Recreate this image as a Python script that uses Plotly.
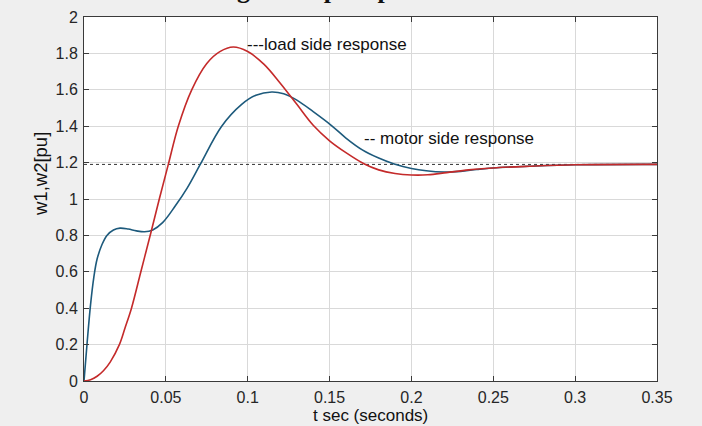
import plotly.graph_objects as go

# motor side response (w1)
t_motor = [0, 0.002, 0.004, 0.006, 0.008, 0.011, 0.014, 0.018, 0.022, 0.027, 0.032, 0.037,
           0.042, 0.048, 0.0556, 0.063, 0.071, 0.0841, 0.0963, 0.105, 0.1147, 0.122, 0.13,
           0.14, 0.151, 0.16, 0.17, 0.18, 0.189, 0.2, 0.209, 0.22, 0.23, 0.24, 0.252, 0.272,
           0.3, 0.35]
w_motor = [0, 0.22, 0.42, 0.57, 0.67, 0.75, 0.80, 0.83, 0.84, 0.835, 0.825, 0.82,
           0.83, 0.87, 0.96, 1.06, 1.19, 1.40, 1.52, 1.57, 1.588, 1.578, 1.543,
           1.48, 1.405, 1.335, 1.27, 1.225, 1.194, 1.168, 1.155, 1.148, 1.152, 1.162, 1.172, 1.18,
           1.188, 1.19]

# load side response (w2)
t_load = [0, 0.004, 0.008, 0.012, 0.016, 0.0216, 0.025, 0.029, 0.035, 0.041, 0.046, 0.0515,
          0.0576, 0.0658, 0.075, 0.083, 0.0912, 0.1, 0.11, 0.12, 0.13, 0.14, 0.15, 0.16,
          0.171, 0.18, 0.19, 0.2, 0.21, 0.2215, 0.235, 0.252, 0.272, 0.3, 0.35]
w_load = [0, 0.007, 0.026, 0.058, 0.104, 0.20, 0.29, 0.40, 0.61, 0.82, 1.0, 1.19,
          1.40, 1.60, 1.745, 1.81, 1.835, 1.81, 1.74, 1.635, 1.52, 1.405, 1.32, 1.255,
          1.194, 1.16, 1.14, 1.132, 1.133, 1.145, 1.16, 1.172, 1.18, 1.188, 1.19]

# steady-state reference
t_ref = [0, 0.35]
w_ref = [1.19, 1.19]

x_ticks = [0, 0.05, 0.1, 0.15, 0.2, 0.25, 0.3, 0.35]
x_tick_text = ["0", "0.05", "0.1", "0.15", "0.2", "0.25", "0.3", "0.35"]
y_ticks = [0, 0.2, 0.4, 0.6, 0.8, 1, 1.2, 1.4, 1.6, 1.8, 2]
y_tick_text = ["0", "0.2", "0.4", "0.6", "0.8", "1", "1.2", "1.4", "1.6", "1.8", "2"]

SANS = "Liberation Sans, Arial, Helvetica"

fig = go.Figure()
fig.add_trace(go.Scatter(x=t_ref, y=w_ref, mode="lines",
                         line=dict(color="#333333", width=1, dash="dot"), showlegend=False))
fig.add_trace(go.Scatter(x=t_motor, y=w_motor, mode="lines", line_shape="spline",
                         line=dict(color="#1d5a7c", width=1.6), showlegend=False))
fig.add_trace(go.Scatter(x=t_load, y=w_load, mode="lines", line_shape="spline",
                         line=dict(color="#c42a2a", width=1.6), showlegend=False))

axis_common = dict(showline=True, linecolor="#3a3a3a", linewidth=1, mirror="ticks",
                   ticks="inside", ticklen=5, tickcolor="#3a3a3a",
                   showgrid=True, gridcolor="#d9d9d9", gridwidth=1, zeroline=False,
                   automargin=False,
                   tickfont=dict(family=SANS, size=16, color="#262626"))

fig.update_xaxes(range=[0, 0.35], tickvals=x_ticks, ticktext=x_tick_text,
                 ticklabelstandoff=2, **axis_common)
fig.update_yaxes(range=[0, 2], tickvals=y_ticks, ticktext=y_tick_text,
                 ticklabelstandoff=2, **axis_common)

# axis titles
fig.add_annotation(x=0, y=0.5, xref="paper", yref="paper", xshift=-44, yshift=25,
                   text="w1,w2[pu]", textangle=-90, showarrow=False,
                   xanchor="center", yanchor="middle",
                   font=dict(family=SANS, size=18.5, color="#111111"))
fig.add_annotation(x=0.5, y=0, xref="paper", yref="paper", yshift=-46,
                   text="t sec (seconds)", showarrow=False,
                   xanchor="center", yanchor="bottom",
                   font=dict(family=SANS, size=17, color="#111111"))

# curve labels
fig.add_annotation(x=0.0983, y=1.85, xref="x", yref="y", text="---load side response",
                   showarrow=False, xanchor="left", yanchor="middle",
                   font=dict(family=SANS, size=17, color="#111111"))
fig.add_annotation(x=0.1698, y=1.333, xref="x", yref="y", text="-- motor side response",
                   showarrow=False, xanchor="left", yanchor="middle",
                   font=dict(family=SANS, size=17, color="#111111"))

# figure caption, clipped by the top edge as in the source image
fig.add_annotation(x=0.2234, y=1, xref="paper", yref="paper", yshift=11,
                   text="<b>Fig. 4. Step response</b>",
                   showarrow=False, xanchor="left", yanchor="bottom",
                   font=dict(family="Liberation Serif, Times New Roman", size=26, color="#111111"))

fig.update_layout(width=702, height=426,
                  margin=dict(l=84, r=45, t=17, b=45),
                  paper_bgcolor="#efefef", plot_bgcolor="#ffffff")

fig.write_html("out.html", config={"displayModeBar": False},
               post_script="document.body.style.margin='0';")
